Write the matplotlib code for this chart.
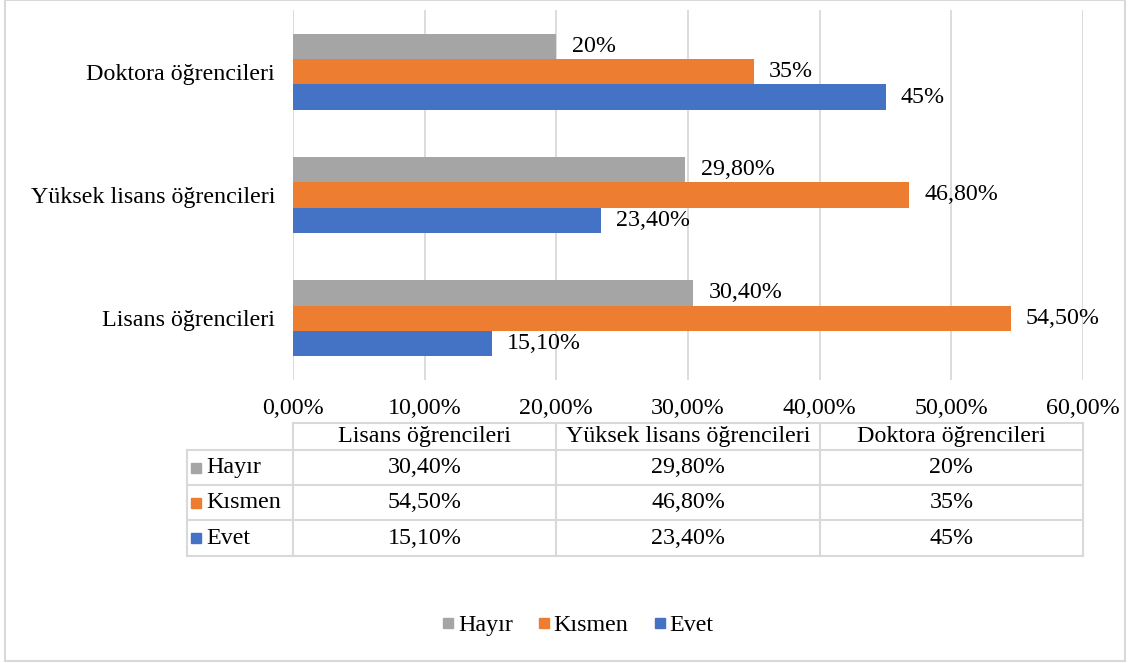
import matplotlib.pyplot as plt
from matplotlib.lines import Line2D
from matplotlib.patches import Rectangle

plt.rcParams['font.family'] = ['Liberation Serif', 'DejaVu Serif']

categories = ['Lisans öğrencileri', 'Yüksek lisans öğrencileri', 'Doktora öğrencileri']
series = ['Hayır', 'Kısmen', 'Evet']
hayir = [30.4, 29.8, 20]
kismen = [54.5, 46.8, 35]
evet = [15.1, 23.4, 45]
colors = ['#A5A5A5', '#ED7D31', '#4472C4']
xticks = [0, 10, 20, 30, 40, 50, 60]


def fmt(v):
    if float(v).is_integer():
        return '%d%%' % v
    return ('%.2f%%' % v).replace('.', ',')


W, H = 1130, 663
fig = plt.figure(figsize=(W / 100, H / 100), dpi=100)
fs = 17.3

# main bar axes (pixel layout)
x0, x1, ytop, ybot = 293, 1083, 10, 380
ax = fig.add_axes([x0 / W, 1 - ybot / H, (x1 - x0) / W, (ybot - ytop) / H])
h = 0.206
vals = [hayir, kismen, evet]
offs = [h, 0, -h]
for s, v, off, c in zip(series, vals, offs, colors):
    ys = [i + off for i in range(len(categories))]
    bars = ax.barh(ys, v, height=h, color=c, label=s, zorder=2)
    ax.bar_label(bars, labels=[fmt(x) for x in v], padding=11, fontsize=fs, color='#000000')

ax.set_xlim(0, 60)
ax.set_ylim(-0.5, 2.5)
ax.set_xticks(xticks)
ax.set_xticklabels([('%.2f%%' % t).replace('.', ',') for t in xticks], fontsize=fs)
ax.set_yticks(range(len(categories)))
ax.set_yticklabels(categories, fontsize=fs)
ax.tick_params(axis='both', length=0)
ax.tick_params(axis='y', pad=13)
ax.tick_params(axis='x', pad=13)
ax.grid(axis='x', color='#D9D9D9', lw=1.3, zorder=0)
for sp in ax.spines.values():
    sp.set_visible(False)

# overlay in pixel coords for table, border
ov = fig.add_axes([0, 0, 1, 1], zorder=-1)
ov.set_xlim(0, W)
ov.set_ylim(H, 0)
ov.axis('off')
ov.patch.set_alpha(0)
lc = '#D9D9D9'
ov.add_patch(Rectangle((5, 0), 1120, 661, fill=False, ec=lc, lw=1.5))

def px(v):
    return x0 + v / 60 * (x1 - x0)

col_edges = [px(0), px(20), px(40), px(60)]
row_edges = [423, 450, 485, 520, 556]
left = 187
# horizontal lines
ov.plot([col_edges[0], col_edges[-1]], [row_edges[0]] * 2, color=lc, lw=1.5)
for y in row_edges[1:]:
    ov.plot([left, col_edges[-1]], [y, y], color=lc, lw=1.5)
# vertical lines
for x in col_edges:
    ov.plot([x, x], [row_edges[0], row_edges[-1]], color=lc, lw=1.5)
ov.plot([left, left], [row_edges[1], row_edges[-1]], color=lc, lw=1.5)

for j, cat in enumerate(categories):
    cx = (col_edges[j] + col_edges[j + 1]) / 2
    ov.text(cx, (row_edges[0] + row_edges[1]) / 2, cat, ha='center', va='center', fontsize=fs)
for i, (s, v, c) in enumerate(zip(series, vals, colors)):
    cy = (row_edges[i + 1] + row_edges[i + 2]) / 2
    ov.add_patch(Rectangle((191, cy - 5), 10, 10, color=c))
    ov.text(206, cy, s, ha='left', va='center', fontsize=fs)
    for j in range(len(categories)):
        cx = (col_edges[j] + col_edges[j + 1]) / 2
        ov.text(cx, cy, fmt(v[j]), ha='center', va='center', fontsize=fs)

handles = [Line2D([], [], ls='', marker='s', markersize=7.5, color=c) for c in colors]
fig.legend(handles, series, loc='center', bbox_to_anchor=(576 / W, 1 - 625 / H), ncol=3,
           frameon=False, fontsize=fs, handletextpad=0.0, columnspacing=0.9, handlelength=0.8)

fig.savefig('out.png', dpi=100)
